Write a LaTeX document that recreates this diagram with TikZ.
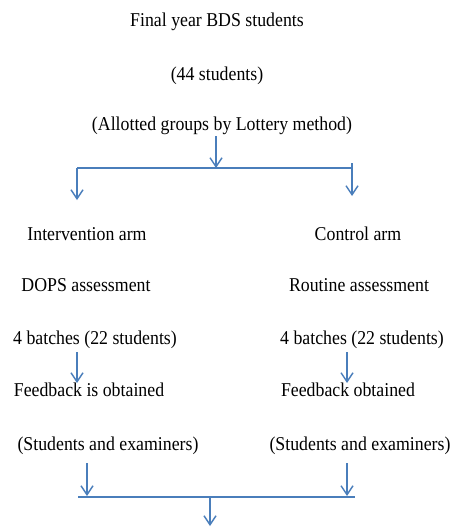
\documentclass[tikz,border=0pt]{standalone}
\usepackage{fontspec}
\setmainfont{Liberation Serif}
\usetikzlibrary{arrows.meta}
\definecolor{lineblue}{RGB}{74,126,187}
\newcommand{\tallt}[1]{\scalebox{1}[1.1]{#1}}
\tikzset{
  lbl/.style={anchor=base, inner sep=0pt, font=\fontsize{17.8}{20}\selectfont, text=black},
  conn/.style={draw=lineblue, line width=1.4pt},
  arr/.style={conn, -{Straight Barb[length=9pt, width=12pt, line width=1.4pt]}}
}
\begin{document}
\begin{tikzpicture}[x=1pt, y=-1pt]
\useasboundingbox[fill=white] (0,0) rectangle (450,527);
% texts
\node[lbl] (t1) at (217,27) {\tallt{Final year BDS students}};
\node[lbl] (t2) at (217,80) {\tallt{(44 students)}};
\node[lbl] (t3) at (222,130) {\tallt{(Allotted groups by Lottery method)}};
\node[lbl] (l1) at (87,240) {\tallt{Intervention arm}};
\node[lbl] (r1) at (358,240) {\tallt{Control arm}};
\node[lbl] (l2) at (86,291) {\tallt{DOPS assessment}};
\node[lbl] (r2) at (359,291) {\tallt{Routine assessment}};
\node[lbl] (l3) at (95,344) {\tallt{4 batches (22 students)}};
\node[lbl] (r3) at (362,344) {\tallt{4 batches (22 students)}};
\node[lbl] (l4) at (89,396) {\tallt{Feedback is obtained}};
\node[lbl] (r4) at (348,396) {\tallt{Feedback obtained}};
\node[lbl] (l5) at (108,450) {\tallt{(Students and examiners)}};
\node[lbl] (r5) at (360,450) {\tallt{(Students and examiners)}};
% coordinates
\coordinate (a0) at (216,136);
\coordinate (a1) at (216,168);
\coordinate (hL) at (77,168);
\coordinate (hR) at (353,168);
\coordinate (sL) at (77,200);
\coordinate (rT) at (352,163);
\coordinate (rB) at (352,196);
\coordinate (mL1) at (77,352);
\coordinate (mL2) at (77,383);
\coordinate (mR1) at (347,352);
\coordinate (mR2) at (347,383);
\coordinate (bL1) at (87,463);
\coordinate (bL2) at (87,496);
\coordinate (bR1) at (347,463);
\coordinate (bR2) at (347,496);
\coordinate (hbL) at (78,497);
\coordinate (hbR) at (355,497);
\coordinate (d0) at (210,497);
\coordinate (d1) at (210,526);
% connectors
\draw[arr] (a0) -- (a1);
\draw[conn] (hL) -- (hR);
\draw[arr] (hL) -- (sL);
\draw[arr] (rT) -- (rB);
\draw[arr] (mL1) -- (mL2);
\draw[arr] (mR1) -- (mR2);
\draw[arr] (bL1) -- (bL2);
\draw[arr] (bR1) -- (bR2);
\draw[conn] (hbL) -- (hbR);
\draw[arr] (d0) -- (d1);
\end{tikzpicture}
\end{document}
